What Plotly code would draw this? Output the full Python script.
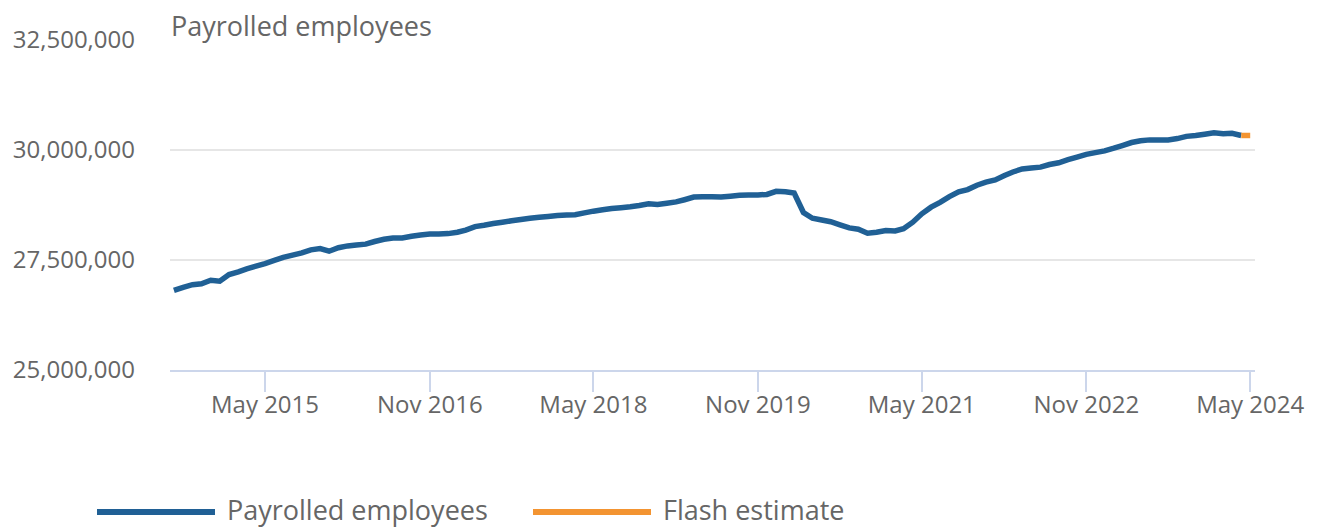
import pandas as pd
import plotly.graph_objects as go

# Months: July 2014 .. May 2024
months = pd.date_range("2014-07-01", "2024-05-01", freq="MS")

# Payrolled employees (millions), Jul 2014 .. Apr 2024
payrolled_m = [
    26.81, 26.88, 26.94, 26.96, 27.04, 27.02, 27.17, 27.23, 27.30, 27.36,
    27.42, 27.49, 27.56, 27.61, 27.66, 27.73, 27.76, 27.70, 27.78, 27.82,
    27.84, 27.86, 27.92, 27.97, 28.00, 28.00, 28.04, 28.07, 28.09, 28.09,
    28.10, 28.13, 28.18, 28.26, 28.29, 28.33, 28.36, 28.39, 28.42, 28.45,
    28.47, 28.49, 28.51, 28.52, 28.53, 28.57, 28.61, 28.64, 28.67, 28.69,
    28.71, 28.74, 28.78, 28.76, 28.79, 28.82, 28.87, 28.93, 28.94, 28.94,
    28.93, 28.95, 28.97, 28.98, 28.98, 28.99, 29.06, 29.05, 29.02, 28.58,
    28.45, 28.41, 28.37, 28.30, 28.23, 28.20, 28.11, 28.13, 28.17, 28.16,
    28.21, 28.36, 28.55, 28.70, 28.81, 28.94, 29.05, 29.10, 29.20, 29.27,
    29.32, 29.42, 29.50, 29.57, 29.59, 29.61, 29.67, 29.71, 29.78, 29.84,
    29.90, 29.94, 29.98, 30.04, 30.10, 30.17, 30.21, 30.23, 30.23, 30.23,
    30.26, 30.31, 30.33, 30.36, 30.39, 30.37, 30.38, 30.33,
]
# Flash estimate (millions), Apr 2024 .. May 2024
flash_m = [30.33, 30.33]

x_tick_vals = ["2015-05-01", "2016-11-01", "2018-05-01", "2019-11-01",
               "2021-05-01", "2022-11-01", "2024-05-01"]
x_tick_text = ["May 2015", "Nov 2016", "May 2018", "Nov 2019",
               "May 2021", "Nov 2022", "May 2024"]
y_tick_vals = [25000000, 27500000, 30000000, 32500000]

BLUE = "#206095"
ORANGE = "#F39431"
GREY_TXT = "#666666"
FONT = "Open Sans"

payrolled = [v * 1e6 for v in payrolled_m]
flash = [v * 1e6 for v in flash_m]

fig = go.Figure()
fig.add_trace(go.Scatter(
    x=months[:len(payrolled)], y=payrolled, mode="lines",
    name="Payrolled employees",
    line=dict(color=BLUE, width=5.5, simplify=False),
    showlegend=False,
))
fig.add_trace(go.Scatter(
    x=months[len(payrolled) - 1:], y=flash, mode="lines",
    name="Flash estimate",
    line=dict(color=ORANGE, width=5.5, simplify=False),
    showlegend=False,
))

# page has an 8px body margin
OFF = 8
W, H = 1317 - OFF, 529 - OFF
# plot area in page pixels: x 170..1255, y 40..370
L = 170 - OFF
T = 40 - OFF
R = W - (1255 - OFF)
B = H - (370 - OFF)
pw, ph = W - L - R, H - T - B

def px_x(p):
    return (p - OFF - L) / pw

def px_y(p):
    return (H - B - (p - OFF)) / ph

shapes = [
    dict(type="line", xref="paper", yref="paper",
         x0=px_x(97), x1=px_x(215), y0=px_y(512), y1=px_y(512),
         line=dict(color=BLUE, width=6)),
    dict(type="line", xref="paper", yref="paper",
         x0=px_x(533), x1=px_x(651), y0=px_y(512), y1=px_y(512),
         line=dict(color=ORANGE, width=6)),
]
annotations = [
    dict(text="Payrolled employees", xref="paper", yref="paper",
         x=px_x(169), y=px_y(26), xanchor="left", yanchor="middle",
         showarrow=False, font=dict(family=FONT, size=27, color=GREY_TXT)),
    dict(text="Payrolled employees", xref="paper", yref="paper",
         x=px_x(225), y=px_y(509), xanchor="left", yanchor="middle",
         showarrow=False, font=dict(family=FONT, size=27, color=GREY_TXT)),
    dict(text="Flash estimate", xref="paper", yref="paper",
         x=px_x(661), y=px_y(509), xanchor="left", yanchor="middle",
         showarrow=False, font=dict(family=FONT, size=27, color=GREY_TXT)),
]

fig.update_layout(
    width=W, height=H,
    margin=dict(l=L, r=R, t=T, b=B, autoexpand=False),
    paper_bgcolor="white", plot_bgcolor="white",
    font=dict(family=FONT, size=24, color=GREY_TXT),
    shapes=shapes, annotations=annotations,
    xaxis=dict(
        range=["2014-06-18", "2024-05-17"],
        tickvals=x_tick_vals, ticktext=x_tick_text,
        showgrid=False, showline=True, linecolor="#ccd6eb", linewidth=2,
        ticks="outside", ticklen=20, tickcolor="#ccd6eb", tickwidth=2,
        ticklabelstandoff=-8, automargin=False,
        tickfont=dict(family=FONT, size=24, color=GREY_TXT),
        zeroline=False,
    ),
    yaxis=dict(
        range=[25000000, 32500000],
        tickvals=y_tick_vals, tickformat=",d",
        showgrid=True, gridcolor="#e6e6e6", gridwidth=2,
        zeroline=False, showline=False, ticks="",
        ticklabelstandoff=34, automargin=False,
        tickfont=dict(family=FONT, size=24, color=GREY_TXT),
    ),
)

fig.write_html("out.html", config={"displayModeBar": False})
